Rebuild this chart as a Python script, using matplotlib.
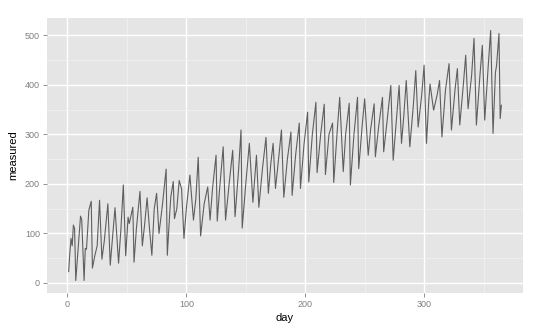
import matplotlib
matplotlib.use("Agg")
import matplotlib.pyplot as plt
from matplotlib.ticker import MultipleLocator

day = [1, 2, 3, 4, 5, 6, 7, 9, 11, 12, 14, 15, 16, 18, 20, 21, 23, 25, 27, 29,
       31, 34, 36, 38, 40, 43, 45, 47, 49, 51, 52, 55, 56, 58, 61, 63, 65, 67, 69, 71,
       73, 75, 77, 80, 83, 84, 86, 87, 89, 90, 92, 94, 96, 98, 100, 103, 106, 108, 110, 112,
       115, 118, 120, 122, 125, 126, 128, 131, 133, 136, 139, 141, 144, 146, 147, 150, 153, 156, 159, 161,
       164, 167, 169, 171, 173, 175, 178, 180, 182, 185, 188, 189, 192, 195, 196, 199, 202, 203, 206, 209,
       210, 213, 216, 217, 220, 223, 224, 227, 229, 232, 234, 237, 238, 241, 244, 245, 248, 250, 253, 255,
       258, 259, 262, 265, 266, 269, 272, 274, 277, 279, 281, 283, 285, 288, 291, 293, 295, 298, 300, 302,
       304, 305, 308, 311, 313, 315, 318, 321, 323, 326, 328, 330, 333, 335, 337, 340, 342, 344, 347, 349,
       351, 354, 356, 358, 360, 361, 363, 364, 365]
measured = [23, 60, 90, 75, 117, 110, 5, 70, 135, 128, 5, 70, 68, 147, 165, 30, 55, 75, 167, 48,
            85, 160, 36, 95, 152, 40, 110, 198, 55, 133, 120, 153, 42, 110, 185, 75, 120, 172, 110, 56,
            150, 181, 100, 160, 230, 56, 140, 175, 205, 130, 150, 207, 190, 90, 150, 218, 127, 170, 254, 95,
            160, 194, 127, 190, 258, 125, 190, 275, 127, 200, 268, 134, 230, 309, 111, 200, 282, 163, 258, 153,
            230, 294, 181, 240, 282, 191, 260, 309, 173, 250, 305, 177, 260, 323, 191, 280, 345, 204, 300, 365,
            223, 300, 361, 219, 300, 323, 203, 310, 375, 225, 300, 363, 198, 300, 375, 231, 320, 372, 258, 310,
            362, 255, 320, 375, 265, 330, 399, 248, 340, 399, 282, 340, 409, 275, 360, 429, 315, 380, 440, 282,
            370, 402, 349, 380, 409, 295, 390, 443, 309, 390, 433, 319, 400, 460, 352, 420, 494, 319, 420, 480,
            329, 440, 510, 302, 425, 440, 504, 332, 359]

x_ticks = [0, 100, 200, 300]
y_ticks = [0, 100, 200, 300, 400, 500]

plt.rcParams['font.family'] = ['Liberation Sans', 'DejaVu Sans']

fig = plt.figure(figsize=(5.4, 3.32), dpi=100)
ax = fig.add_axes([47/540, 1-293/332, (523-47)/540, (293-18)/332])
ax.set_facecolor('#E5E5E5')
for s in ax.spines.values():
    s.set_visible(False)

ax.plot(day, measured, color='#5e5e5e', linewidth=0.8, zorder=3)

span_x = max(day) - min(day)
ax.set_xlim(min(day) - 0.05*span_x, max(day) + 0.05*span_x)
span_y = max(measured) - min(measured)
ax.set_ylim(min(measured) - 0.05*span_y, max(measured) + 0.05*span_y)

ax.set_xticks(x_ticks)
ax.set_yticks(y_ticks)
ax.xaxis.set_minor_locator(MultipleLocator(50))
ax.yaxis.set_minor_locator(MultipleLocator(50))
ax.grid(which='major', color='white', linewidth=1.0, zorder=1)
ax.grid(which='minor', color='#F2F2F2', linewidth=0.5, zorder=1)
ax.set_axisbelow(True)
ax.tick_params(which='major', length=3, width=0.6, color='#7F7F7F',
               labelcolor='#7F7F7F', labelsize=6.5, pad=2)
ax.tick_params(which='minor', length=0)

ax.set_xlabel('day', fontsize=8, labelpad=3)
ax.set_ylabel('measured', fontsize=8, labelpad=5)

fig.savefig('out.png', dpi=100, facecolor='white')
